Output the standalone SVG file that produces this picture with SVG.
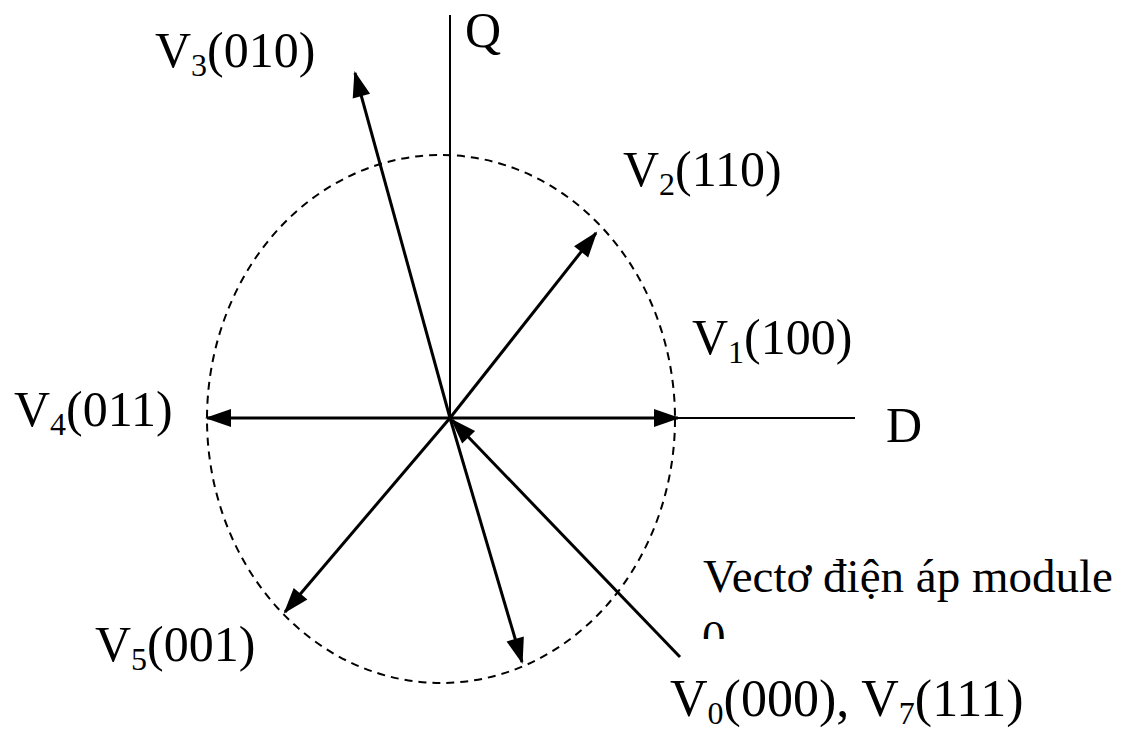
<svg xmlns="http://www.w3.org/2000/svg" width="1136" height="734" viewBox="0 0 1136 734">
<style>
text{font-family:"Liberation Serif","Times New Roman",serif;fill:#000}
.lbl{font-size:50px}
.sub{font-size:32px}
.axis{stroke:#000;stroke-width:2;fill:none}
.vec{stroke:#000;stroke-width:3;fill:none;marker-end:url(#ah)}
</style>
<defs>
<marker id="ah" markerUnits="userSpaceOnUse" markerWidth="30" markerHeight="24" viewBox="0 0 30 24" refX="26" refY="12" orient="auto">
<path d="M2,3 L28,12 L2,21 Z" fill="#000"/>
</marker>
<clipPath id="clip0"><rect x="690" y="600" width="60" height="39"/></clipPath>
</defs>
<g id="circle">
<ellipse cx="441" cy="419" rx="234" ry="264" fill="none" stroke="#000" stroke-width="2" stroke-dasharray="8,6"/>
</g>
<g id="axes">
<line class="axis" x1="450" y1="15" x2="450" y2="418"/>
<line class="axis" x1="450" y1="418" x2="855" y2="418"/>
</g>
<g id="connectors">
<line class="vec" x1="450" y1="418" x2="678" y2="418"/>
<line class="vec" x1="450" y1="418" x2="207" y2="418"/>
<line class="vec" x1="450" y1="418" x2="596" y2="233"/>
<line class="vec" x1="450" y1="418" x2="355" y2="73"/>
<line class="vec" x1="450" y1="418" x2="285" y2="612"/>
<line class="vec" x1="450" y1="418" x2="522" y2="662"/>
<line class="vec" x1="680" y1="657" x2="452" y2="420"/>
</g>
<g id="label-Q"><text class="lbl" x="465" y="47">Q</text></g>
<g id="label-D"><text class="lbl" x="886" y="442">D</text></g>
<g id="label-V3"><text class="lbl" x="155" y="67">V<tspan class="sub" dy="9">3</tspan><tspan dy="-9">(010)</tspan></text></g>
<g id="label-V2"><text class="lbl" x="623" y="186">V<tspan class="sub" dy="9">2</tspan><tspan dy="-9">(110)</tspan></text></g>
<g id="label-V1"><text class="lbl" x="692" y="354">V<tspan class="sub" dy="9">1</tspan><tspan dy="-9">(100)</tspan></text></g>
<g id="label-V4"><text class="lbl" x="14" y="426">V<tspan class="sub" dy="9">4</tspan><tspan dy="-9">(011)</tspan></text></g>
<g id="label-V5"><text class="lbl" x="95" y="661">V<tspan class="sub" dy="9">5</tspan><tspan dy="-9">(001)</tspan></text></g>
<g id="label-V0V7">
<text x="670" y="716" style="font-size:52px">V<tspan class="sub" dy="8">0</tspan><tspan dy="-8">(000), V</tspan><tspan class="sub" dy="8">7</tspan><tspan dy="-8">(111)</tspan></text>
</g>
<g id="label-module">
<text x="703" y="592" style="font-size:47px">Vectơ điện áp module</text>
<text x="702" y="653" style="font-size:47px" clip-path="url(#clip0)">0</text>
</g>
</svg>
